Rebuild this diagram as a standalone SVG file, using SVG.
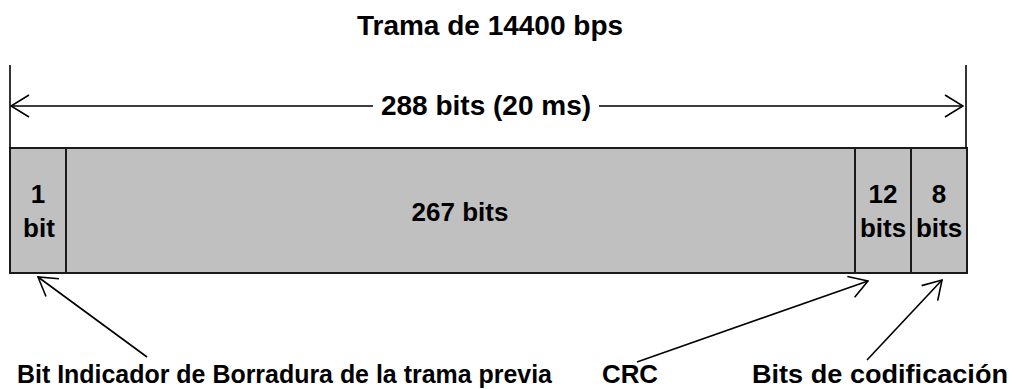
<svg xmlns="http://www.w3.org/2000/svg" width="1016" height="389" viewBox="0 0 1016 389">
<defs>
<style>
text{font-family:"Liberation Sans",Arial,sans-serif;font-weight:bold;fill:#000}
.lbl{font-size:26px;text-anchor:middle}
.seg{fill:#c0c0c0;stroke:#1a1a1a;stroke-width:2}
.ln{stroke:#000;stroke-width:1.6;fill:none}
</style>
<marker id="ah" viewBox="0 0 20 24" refX="19" refY="12" markerWidth="20" markerHeight="24" markerUnits="userSpaceOnUse" orient="auto">
<path d="M1,1 L19,12 L1,23" fill="none" stroke="#000" stroke-width="1.6"/>
</marker>
</defs>
<rect width="1016" height="389" fill="#fff"/>
<text x="490" y="35" font-size="28" text-anchor="middle">Trama de 14400 bps</text>
<g id="frame">
<rect id="seg1" class="seg" x="10" y="148" width="56" height="125"/>
<rect id="seg2" class="seg" x="66" y="148" width="789" height="125"/>
<rect id="seg3" class="seg" x="855" y="148" width="56" height="125"/>
<rect id="seg4" class="seg" x="911" y="148" width="56" height="125"/>
</g>
<g id="n-seg1"><text class="lbl" x="38" y="203">1</text><text class="lbl" x="39" y="237">bit</text></g>
<g id="n-seg2"><text class="lbl" x="460" y="221">267 bits</text></g>
<g id="n-seg3"><text class="lbl" x="883" y="203">12</text><text class="lbl" x="883" y="237">bits</text></g>
<g id="n-seg4"><text class="lbl" x="939" y="203">8</text><text class="lbl" x="939" y="237">bits</text></g>
<g id="connectors">
<line class="ln" x1="10" y1="65" x2="10" y2="148"/>
<line class="ln" x1="966" y1="65" x2="966" y2="148"/>
<line class="ln" x1="373" y1="106" x2="11" y2="106" marker-end="url(#ah)"/>
<line class="ln" x1="599" y1="106" x2="963" y2="106" marker-end="url(#ah)"/>
<line class="ln" x1="147" y1="357" x2="38" y2="277" marker-end="url(#ah)"/>
<line class="ln" x1="637" y1="362" x2="868" y2="281" marker-end="url(#ah)"/>
<line class="ln" x1="867" y1="360" x2="942" y2="280" marker-end="url(#ah)"/>
</g>
<text x="486" y="115" font-size="28" text-anchor="middle">288 bits (20 ms)</text>
<g id="n-bit-ind"><text x="17" y="383" font-size="25" textLength="535" lengthAdjust="spacingAndGlyphs">Bit Indicador de Borradura de la trama previa</text></g>
<g id="n-crc"><text x="602" y="383" font-size="26" textLength="56" lengthAdjust="spacingAndGlyphs">CRC</text></g>
<g id="n-bitscod"><text x="752" y="383" font-size="26" textLength="256" lengthAdjust="spacingAndGlyphs">Bits de codificación</text></g>
</svg>
